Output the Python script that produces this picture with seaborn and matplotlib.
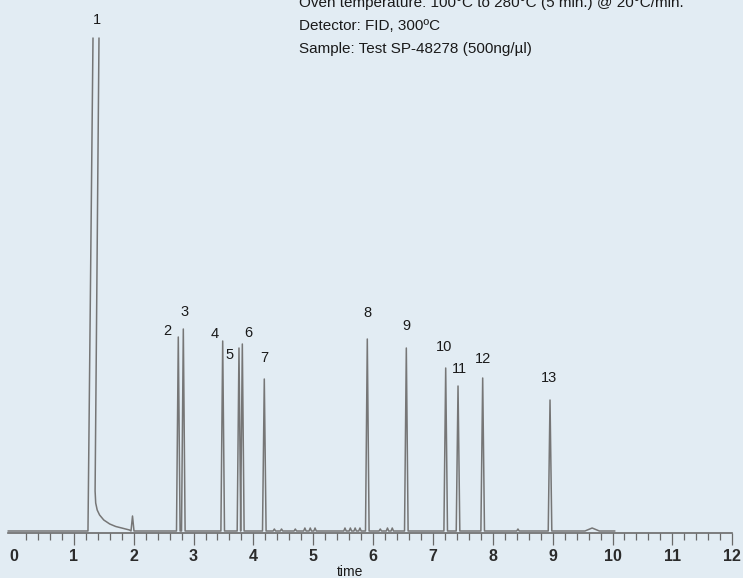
import pandas as pd
import matplotlib.pyplot as plt
import seaborn as sns
from matplotlib.ticker import FixedLocator


# picos numerados: tempo de retencao (min) e altura (sinal do detector)
peak_ids = ["2", "3", "4", "5", "6", "7", "8", "9", "10", "11", "12", "13"]
peak_rt = [2.745, 2.829, 3.487, 3.759, 3.815, 4.182, 5.903, 6.555, 7.213, 7.419, 7.831, 8.956]
peak_height = [194, 202, 190, 183, 187, 152, 192, 183, 163, 145, 153, 131]

# pico 1 (solvente), fora de escala, e a cauda dele
solvent_rt = [1.236, 1.32, 1.42, 1.355, 1.365, 1.39, 1.43, 1.50, 1.60, 1.70, 1.80, 1.93]
solvent_signal = [0, 493, 493, 40, 28, 21, 16, 11, 7, 4.5, 3, 1]

# pequenos picos na linha de base
minor_rt = [1.98, 4.35, 4.47, 4.70, 4.86, 4.95, 5.03, 5.53, 5.62, 5.70, 5.78, 6.12, 6.24, 6.32, 8.42, 9.66]
minor_height = [15, 2, 2, 2, 3, 3, 3, 3, 3, 3, 3, 2, 3, 3, 2, 3]

run_start, run_end = -0.1, 10.04

tick_labels = [str(i) for i in range(13)]

info_lines = [
    "Oven temperature: 100°C to 280°C (5 min.) @ 20°C/min.",
    "Detector: FID, 300ºC",
    "Sample: Test SP-48278 (500ng/µl)",
]


# montagem do tracado (dois segmentos: o pico 1 sai da escala)
seg0 = [(run_start, 0), (solvent_rt[0], solvent_signal[0]), (solvent_rt[1], solvent_signal[1])]
seg1 = list(zip(solvent_rt[2:], solvent_signal[2:]))

peaks = [(t, h, 0.03) for t, h in zip(peak_rt, peak_height)]
for t, h in zip(minor_rt, minor_height):
    hw = 0.025
    if h <= 3 and t > 9:
        hw = 0.12
    elif h <= 3:
        hw = 0.02
    peaks.append((t, h, hw))
peaks.sort()

for t, h, hw in peaks:
    seg1 += [(t - hw, 0), (t, h), (t + hw, 0)]
seg1.append((run_end, 0))

rows = [(0, x, y) for x, y in seg0] + [(1, x, y) for x, y in seg1]
df = pd.DataFrame(rows, columns=["segment", "time", "signal"])


# grafico
sns.set_theme(style="white")
plt.rcParams["font.family"] = ["Liberation Sans", "DejaVu Sans"]

bg = "#e2ecf3"
fig = plt.figure(figsize=(7.43, 5.78), dpi=100)
fig.patch.set_facecolor(bg)
ax = fig.add_axes([0, 0, 1, 1])
ax.set_facecolor(bg)

sns.lineplot(data=df, x="time", y="signal", units="segment", estimator=None,
             sort=False, color="#767676", linewidth=1.1, ax=ax, legend=False)

ax.set_xlim(-14 / 59.85, 729 / 59.85)
ax.set_ylim(-47, 531)

# rotulos dos picos
ax.annotate("1", (1.37, solvent_signal[1]), xytext=(1, 13), textcoords="offset points",
            ha="center", va="center", fontsize=10.5, color="#1a1a1a")
label_offsets = [(-8, 4), (1, 12), (-6, 5), (-7, -5), (4, 8), (0, 15),
                 (0, 19), (0, 16), (-1, 15), (1, 12), (0, 14), (-1, 16)]
for name, t, h, off in zip(peak_ids, peak_rt, peak_height, label_offsets):
    ax.annotate(name, (t, h), xytext=off, textcoords="offset points",
                ha="center", va="center", fontsize=10.5, color="#1a1a1a")

# eixo do tempo
for s in ["left", "top", "right"]:
    ax.spines[s].set_visible(False)
ax.spines["bottom"].set_position(("data", -2))
ax.spines["bottom"].set_bounds(run_start, 12)
ax.spines["bottom"].set_color("#6a6a6a")
ax.spines["bottom"].set_linewidth(1.2)

ax.set_yticks([])
ax.set_xticks(range(13))
ax.set_xticklabels(tick_labels, fontsize=11.5, fontweight="bold", color="#2b2b2b")
ax.xaxis.set_minor_locator(FixedLocator([i / 5 for i in range(1, 60) if i % 5]))
ax.tick_params(axis="x", which="major", direction="out", length=8.6, width=0.9,
               color="#6a6a6a", pad=3, bottom=True)
ax.tick_params(axis="x", which="minor", direction="out", length=5, width=0.9,
               color="#6a6a6a", bottom=True)
ax.xaxis.get_major_ticks()[0].tick1line.set_visible(False)

ax.set_xlabel("time", fontsize=10, color="#1a1a1a")
ax.xaxis.set_label_coords(350 / 743, 0.022)
ax.set_ylabel("")

# condicoes da analise
for i, line in enumerate(info_lines):
    fig.text(299 / 743, 1 - (7 + 23 * i) / 578, line, fontsize=11,
             color="#1a1a1a", va="baseline", ha="left")

fig.savefig("out.png", dpi=100, facecolor=bg)
plt.close(fig)
